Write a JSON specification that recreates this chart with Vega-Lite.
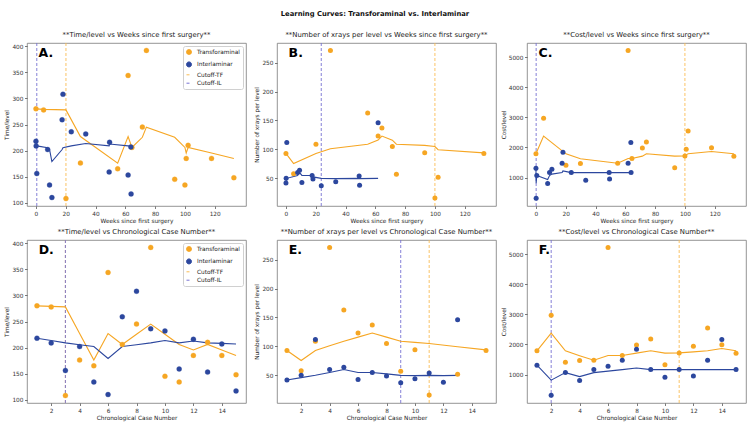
{
  "$schema": "https://vega.github.io/schema/vega-lite/v6.json",
  "padding": {"left": 3, "top": 11, "right": 2, "bottom": 2},
  "title": {"text": "Learning Curves: Transforaminal vs. Interlaminar", "fontSize": 6.8, "fontWeight": "bold", "anchor": "middle", "color": "#111111", "offset": 12},
  "config": {
    "font": "DejaVu Sans",
    "view": {"stroke": "#7a7a7a", "strokeWidth": 0.8},
    "axis": {"grid": false, "domain": false, "ticks": true, "tickSize": 2.5, "tickWidth": 0.7, "tickColor": "#444444", "tickCount": 30, "labelFontSize": 5.8, "labelColor": "#333333", "labelPadding": 1.5, "labelOverlap": false, "format": "d", "titleFontSize": 5.8, "titleFontWeight": "normal", "titleColor": "#222222", "titlePadding": 2},
    "title": {"fontSize": 6.9, "fontWeight": "normal", "color": "#222222", "offset": 4},
    "legend": {"labelFontSize": 5.8, "labelColor": "#222222", "padding": 3, "offset": 3, "strokeColor": "#d0d0d0", "fillColor": "#ffffff", "cornerRadius": 2, "rowPadding": 2.4, "labelOffset": 5, "symbolStrokeWidth": 1, "symbolSize": 25}
  },
  "datasets": {
    "cases": [
      {"group": "Transforaminal", "case": 1, "weeks": 0, "time": 280, "xrays": 93, "cost": 1790, "time_med": 280, "xrays_med": 93, "cost_med": 1790},
      {"group": "Transforaminal", "case": 2, "weeks": 5.14, "time": 278, "xrays": 58, "cost": 2970, "time_med": 279, "xrays_med": 75.5, "cost_med": 2380},
      {"group": "Transforaminal", "case": 3, "weeks": 20.14, "time": 108, "xrays": 109, "cost": 1410, "time_med": 278, "xrays_med": 93, "cost_med": 1790},
      {"group": "Transforaminal", "case": 4, "weeks": 29.86, "time": 176, "xrays": 271, "cost": 1465, "time_med": 227, "xrays_med": 101, "cost_med": 1627.5},
      {"group": "Transforaminal", "case": 5, "weeks": 54.86, "time": 165, "xrays": 163, "cost": 1475, "time_med": 176, "xrays_med": 109, "cost_med": 1475},
      {"group": "Transforaminal", "case": 6, "weeks": 61.86, "time": 344, "xrays": 123, "cost": 5230, "time_med": 227, "xrays_med": 116, "cost_med": 1632.5},
      {"group": "Transforaminal", "case": 7, "weeks": 64.43, "time": 206, "xrays": 137, "cost": 1635, "time_med": 206, "xrays_med": 123, "cost_med": 1635},
      {"group": "Transforaminal", "case": 8, "weeks": 71.43, "time": 245, "xrays": 105, "cost": 1985, "time_med": 225.5, "xrays_med": 116, "cost_med": 1712.5},
      {"group": "Transforaminal", "case": 9, "weeks": 74.14, "time": 392, "xrays": 57, "cost": 2180, "time_med": 245, "xrays_med": 109, "cost_med": 1790},
      {"group": "Transforaminal", "case": 10, "weeks": 93.14, "time": 145, "xrays": 94, "cost": 1330, "time_med": 225.5, "xrays_med": 107, "cost_med": 1712.5},
      {"group": "Transforaminal", "case": 11, "weeks": 100, "time": 134, "xrays": 16, "cost": 1720, "time_med": 206, "xrays_med": 105, "cost_med": 1720},
      {"group": "Transforaminal", "case": 12, "weeks": 100.86, "time": 185, "xrays": null, "cost": 1940, "time_med": 195.5, "xrays_med": null, "cost_med": 1755},
      {"group": "Transforaminal", "case": 13, "weeks": 102.14, "time": 210, "xrays": 52, "cost": 2550, "time_med": 206, "xrays_med": 99.5, "cost_med": 1790},
      {"group": "Transforaminal", "case": 14, "weeks": 117.86, "time": 185, "xrays": null, "cost": 1995, "time_med": 195.5, "xrays_med": null, "cost_med": 1865},
      {"group": "Transforaminal", "case": 15, "weeks": 132.86, "time": 148, "xrays": 93, "cost": 1710, "time_med": 185, "xrays_med": 94, "cost_med": 1790},
      {"group": "Interlaminar", "case": 1, "weeks": 0, "time": 218, "xrays": 42, "cost": 1310, "time_med": 218, "xrays_med": 42, "cost_med": 1310},
      {"group": "Interlaminar", "case": 2, "weeks": 0.14, "time": 209, "xrays": 50, "cost": 315, "time_med": 213.5, "xrays_med": 46, "cost_med": 812.5},
      {"group": "Interlaminar", "case": 3, "weeks": 0.57, "time": 156, "xrays": 112, "cost": 1065, "time_med": 209, "xrays_med": 50, "cost_med": 1065},
      {"group": "Interlaminar", "case": 4, "weeks": 7.86, "time": 202, "xrays": 60, "cost": 800, "time_med": 205.5, "xrays_med": 55, "cost_med": 932.5},
      {"group": "Interlaminar", "case": 5, "weeks": 9.14, "time": 134, "xrays": 64, "cost": 1165, "time_med": 202, "xrays_med": 60, "cost_med": 1065},
      {"group": "Interlaminar", "case": 6, "weeks": 10.71, "time": 110, "xrays": 43, "cost": 1275, "time_med": 179, "xrays_med": 55, "cost_med": 1115},
      {"group": "Interlaminar", "case": 7, "weeks": 17.57, "time": 259, "xrays": 55, "cost": 1475, "time_med": 202, "xrays_med": 55, "cost_med": 1165},
      {"group": "Interlaminar", "case": 8, "weeks": 18.14, "time": 308, "xrays": 49, "cost": 1840, "time_med": 205.5, "xrays_med": 52.5, "cost_med": 1220},
      {"group": "Interlaminar", "case": 9, "weeks": 23.71, "time": 236, "xrays": 37, "cost": 1165, "time_med": 209, "xrays_med": 50, "cost_med": 1165},
      {"group": "Interlaminar", "case": 10, "weeks": 33.43, "time": 232, "xrays": 44, "cost": 910, "time_med": 213.5, "xrays_med": 49.5, "cost_med": 1165},
      {"group": "Interlaminar", "case": 11, "weeks": 49.14, "time": 159, "xrays": 54, "cost": 1165, "time_med": 209, "xrays_med": 50, "cost_med": 1165},
      {"group": "Interlaminar", "case": 12, "weeks": 49.43, "time": 216, "xrays": 38, "cost": 955, "time_med": 212.5, "xrays_med": 49.5, "cost_med": 1165},
      {"group": "Interlaminar", "case": 13, "weeks": 61.86, "time": 153, "xrays": 146, "cost": 1475, "time_med": 209, "xrays_med": 50, "cost_med": 1165},
      {"group": "Interlaminar", "case": 14, "weeks": 63.71, "time": 207, "xrays": null, "cost": 2170, "time_med": 208, "xrays_med": null, "cost_med": 1165},
      {"group": "Interlaminar", "case": 15, "weeks": 63.86, "time": 117, "xrays": null, "cost": 1165, "time_med": 207, "xrays_med": null, "cost_med": 1165}
    ],
    "cutoffs": [
      {"panel": "A", "group": "Cutoff-TF", "at": 20.14},
      {"panel": "A", "group": "Cutoff-IL", "at": 0.57},
      {"panel": "B", "group": "Cutoff-TF", "at": 100},
      {"panel": "B", "group": "Cutoff-IL", "at": 23.71},
      {"panel": "C", "group": "Cutoff-TF", "at": 100},
      {"panel": "C", "group": "Cutoff-IL", "at": 0.14},
      {"panel": "D", "group": "Cutoff-TF", "at": 3},
      {"panel": "D", "group": "Cutoff-IL", "at": 3},
      {"panel": "E", "group": "Cutoff-TF", "at": 11},
      {"panel": "E", "group": "Cutoff-IL", "at": 9},
      {"panel": "F", "group": "Cutoff-TF", "at": 11},
      {"panel": "F", "group": "Cutoff-IL", "at": 2}
    ]
  },
  "columns": 3,
  "spacing": {"row": 34, "column": 31},
  "bounds": "flush",
  "resolve": {
    "scale": {"color": "independent", "fill": "independent", "stroke": "independent", "shape": "independent", "strokeDash": "independent"},
    "legend": {"color": "independent", "fill": "independent", "stroke": "independent", "shape": "independent", "strokeDash": "independent"}
  },
  "concat": [
    {
      "width": 219, "height": 163,
      "title": "**Time/level vs Weeks since first surgery**",
      "layer": [
        {"data": {"name": "cutoffs"}, "transform": [{"filter": "datum.panel === 'A'"}],
         "mark": {"type": "rule", "strokeWidth": 0.9},
         "encoding": {
           "x": {"field": "at", "type": "quantitative", "title": "Weeks since first surgery", "scale": {"domain": [-6, 141], "nice": false, "zero": false}, "axis": {"values": [0, 20, 40, 60, 80, 100, 120], "tickCount": 30, "labelOverlap": false}},
           "stroke": {"field": "group", "type": "nominal", "scale": {"domain": ["Transforaminal", "Interlaminar", "Cutoff-TF", "Cutoff-IL"], "range": ["#F6A623", "#2C479E", "#F9BC55", "#7772D2"]}, "legend": {"title": null, "orient": "top-right"}},
           "strokeDash": {"field": "group", "type": "nominal", "scale": {"domain": ["Transforaminal", "Interlaminar", "Cutoff-TF", "Cutoff-IL"], "range": [[1, 0], [1, 0], [3, 2], [3, 2]]}, "legend": {"title": null, "orient": "top-right"}}
         }},
        {"data": {"name": "cases"},
         "mark": {"type": "line", "strokeWidth": 1.1},
         "encoding": {
           "x": {"field": "weeks", "type": "quantitative", "title": "Weeks since first surgery", "axis": {"values": [0, 20, 40, 60, 80, 100, 120], "tickCount": 30, "labelOverlap": false}},
           "y": {"field": "time_med", "type": "quantitative", "title": "Time/level", "scale": {"domain": [93.8, 406.2], "nice": false, "zero": false}, "axis": {"values": [100, 150, 200, 250, 300, 350, 400], "tickCount": 30, "labelOverlap": false}},
           "order": {"field": "case", "type": "quantitative"},
           "stroke": {"field": "group", "type": "nominal", "legend": {"title": null, "orient": "top-right"}}
         }},
        {"data": {"name": "cases"},
         "mark": {"type": "point", "filled": true, "size": 25, "strokeWidth": 0.3, "opacity": 1},
         "encoding": {
           "x": {"field": "weeks", "type": "quantitative", "title": "Weeks since first surgery", "axis": {"values": [0, 20, 40, 60, 80, 100, 120], "tickCount": 30, "labelOverlap": false}},
           "y": {"field": "time", "type": "quantitative", "title": "Time/level", "axis": {"values": [100, 150, 200, 250, 300, 350, 400], "tickCount": 30, "labelOverlap": false}},
           "fill": {"field": "group", "type": "nominal", "scale": {"domain": ["Transforaminal", "Interlaminar", "Cutoff-TF", "Cutoff-IL"], "range": ["#F6A623", "#2C479E", "transparent", "transparent"]}, "legend": {"title": null, "orient": "top-right"}},
           "stroke": {"field": "group", "type": "nominal", "legend": {"title": null, "orient": "top-right"}},
           "shape": {"field": "group", "type": "nominal", "scale": {"domain": ["Transforaminal", "Interlaminar", "Cutoff-TF", "Cutoff-IL"], "range": ["circle", "circle", "stroke", "stroke"]}, "legend": {"title": null, "orient": "top-right"}}
         }},
        {"data": {"values": [{"tag": "A."}]},
         "mark": {"type": "text", "fontSize": 12.5, "fontWeight": "bold", "align": "left", "baseline": "alphabetic", "color": "#000000"},
         "encoding": {"text": {"field": "tag"}, "x": {"datum": 1.8}, "y": {"datum": 380.3}}}
      ]
    },
    {
      "width": 219, "height": 163,
      "title": "**Number of xrays per level vs Weeks since first surgery**",
      "layer": [
        {"data": {"name": "cutoffs"}, "transform": [{"filter": "datum.panel === 'B'"}],
         "mark": {"type": "rule", "strokeDash": [3, 2], "strokeWidth": 0.9},
         "encoding": {
           "x": {"field": "at", "type": "quantitative", "title": "Weeks since first surgery", "scale": {"domain": [-6, 141], "nice": false, "zero": false}, "axis": {"values": [0, 20, 40, 60, 80, 100, 120], "tickCount": 30, "labelOverlap": false}},
           "color": {"field": "group", "type": "nominal", "scale": {"domain": ["Transforaminal", "Interlaminar", "Cutoff-TF", "Cutoff-IL"], "range": ["#F6A623", "#2C479E", "#F9BC55", "#7772D2"]}, "legend": null}
         }},
        {"data": {"name": "cases"}, "transform": [{"filter": "isValid(datum.xrays_med)"}],
         "mark": {"type": "line", "strokeWidth": 1.1},
         "encoding": {
           "x": {"field": "weeks", "type": "quantitative", "title": "Weeks since first surgery"},
           "y": {"field": "xrays_med", "type": "quantitative", "title": "Number of xrays per level", "scale": {"domain": [2.2, 283.8], "nice": false, "zero": false}, "axis": {"values": [50, 100, 150, 200, 250], "tickCount": 30, "labelOverlap": false}},
           "order": {"field": "case", "type": "quantitative"},
           "color": {"field": "group", "type": "nominal", "legend": null}
         }},
        {"data": {"name": "cases"}, "transform": [{"filter": "isValid(datum.xrays)"}],
         "mark": {"type": "circle", "size": 25, "opacity": 1},
         "encoding": {
           "x": {"field": "weeks", "type": "quantitative", "title": "Weeks since first surgery"},
           "y": {"field": "xrays", "type": "quantitative", "title": "Number of xrays per level"},
           "color": {"field": "group", "type": "nominal", "legend": null}
         }},
        {"data": {"values": [{"tag": "B."}]},
         "mark": {"type": "text", "fontSize": 12.5, "fontWeight": "bold", "align": "left", "baseline": "alphabetic", "color": "#000000"},
         "encoding": {"text": {"field": "tag"}, "x": {"datum": 1.8}, "y": {"datum": 260.4}}}
      ]
    },
    {
      "width": 219, "height": 163,
      "title": "**Cost/level vs Weeks since first surgery**",
      "layer": [
        {"data": {"name": "cutoffs"}, "transform": [{"filter": "datum.panel === 'C'"}],
         "mark": {"type": "rule", "strokeDash": [3, 2], "strokeWidth": 0.9},
         "encoding": {
           "x": {"field": "at", "type": "quantitative", "title": "Weeks since first surgery", "scale": {"domain": [-6, 141], "nice": false, "zero": false}, "axis": {"values": [0, 20, 40, 60, 80, 100, 120], "tickCount": 30, "labelOverlap": false}},
           "color": {"field": "group", "type": "nominal", "scale": {"domain": ["Transforaminal", "Interlaminar", "Cutoff-TF", "Cutoff-IL"], "range": ["#F6A623", "#2C479E", "#F9BC55", "#7772D2"]}, "legend": null}
         }},
        {"data": {"name": "cases"},
         "mark": {"type": "line", "strokeWidth": 1.1},
         "encoding": {
           "x": {"field": "weeks", "type": "quantitative", "title": "Weeks since first surgery"},
           "y": {"field": "cost_med", "type": "quantitative", "title": "Cost/level", "scale": {"domain": [53.5, 5476.5], "nice": false, "zero": false}, "axis": {"values": [1000, 2000, 3000, 4000, 5000], "tickCount": 30, "labelOverlap": false}},
           "order": {"field": "case", "type": "quantitative"},
           "color": {"field": "group", "type": "nominal", "legend": null}
         }},
        {"data": {"name": "cases"},
         "mark": {"type": "circle", "size": 25, "opacity": 1},
         "encoding": {
           "x": {"field": "weeks", "type": "quantitative", "title": "Weeks since first surgery"},
           "y": {"field": "cost", "type": "quantitative", "title": "Cost/level"},
           "color": {"field": "group", "type": "nominal", "legend": null}
         }},
        {"data": {"values": [{"tag": "C."}]},
         "mark": {"type": "text", "fontSize": 12.5, "fontWeight": "bold", "align": "left", "baseline": "alphabetic", "color": "#000000"},
         "encoding": {"text": {"field": "tag"}, "x": {"datum": 1.8}, "y": {"datum": 5026}}}
      ]
    },
    {
      "width": 219, "height": 163,
      "title": "**Time/level vs Chronological Case Number**",
      "layer": [
        {"data": {"name": "cutoffs"}, "transform": [{"filter": "datum.panel === 'D'"}],
         "mark": {"type": "rule", "strokeWidth": 0.9},
         "encoding": {
           "x": {"field": "at", "type": "quantitative", "title": "Chronological Case Number", "scale": {"domain": [0.3, 15.7], "nice": false, "zero": false}, "axis": {"values": [2, 4, 6, 8, 10, 12, 14], "tickCount": 30, "labelOverlap": false}},
           "stroke": {"field": "group", "type": "nominal", "scale": {"domain": ["Transforaminal", "Interlaminar", "Cutoff-TF", "Cutoff-IL"], "range": ["#F6A623", "#2C479E", "#F9BC55", "#7772D2"]}, "legend": {"title": null, "orient": "top-right"}},
           "strokeDash": {"field": "group", "type": "nominal", "scale": {"domain": ["Transforaminal", "Interlaminar", "Cutoff-TF", "Cutoff-IL"], "range": [[1, 0], [1, 0], [3, 2], [3, 2]]}, "legend": {"title": null, "orient": "top-right"}}
         }},
        {"data": {"name": "cases"},
         "mark": {"type": "line", "strokeWidth": 1.1},
         "encoding": {
           "x": {"field": "case", "type": "quantitative", "title": "Chronological Case Number", "axis": {"values": [2, 4, 6, 8, 10, 12, 14], "tickCount": 30, "labelOverlap": false}},
           "y": {"field": "time_med", "type": "quantitative", "title": "Time/level", "scale": {"domain": [93.8, 406.2], "nice": false, "zero": false}, "axis": {"values": [100, 150, 200, 250, 300, 350, 400], "tickCount": 30, "labelOverlap": false}},
           "order": {"field": "case", "type": "quantitative"},
           "stroke": {"field": "group", "type": "nominal", "legend": {"title": null, "orient": "top-right"}}
         }},
        {"data": {"name": "cases"},
         "mark": {"type": "point", "filled": true, "size": 25, "strokeWidth": 0.3, "opacity": 1},
         "encoding": {
           "x": {"field": "case", "type": "quantitative", "title": "Chronological Case Number", "axis": {"values": [2, 4, 6, 8, 10, 12, 14], "tickCount": 30, "labelOverlap": false}},
           "y": {"field": "time", "type": "quantitative", "title": "Time/level", "axis": {"values": [100, 150, 200, 250, 300, 350, 400], "tickCount": 30, "labelOverlap": false}},
           "fill": {"field": "group", "type": "nominal", "scale": {"domain": ["Transforaminal", "Interlaminar", "Cutoff-TF", "Cutoff-IL"], "range": ["#F6A623", "#2C479E", "transparent", "transparent"]}, "legend": {"title": null, "orient": "top-right"}},
           "stroke": {"field": "group", "type": "nominal", "legend": {"title": null, "orient": "top-right"}},
           "shape": {"field": "group", "type": "nominal", "scale": {"domain": ["Transforaminal", "Interlaminar", "Cutoff-TF", "Cutoff-IL"], "range": ["circle", "circle", "stroke", "stroke"]}, "legend": {"title": null, "orient": "top-right"}}
         }},
        {"data": {"values": [{"tag": "D."}]},
         "mark": {"type": "text", "fontSize": 12.5, "fontWeight": "bold", "align": "left", "baseline": "alphabetic", "color": "#000000"},
         "encoding": {"text": {"field": "tag"}, "x": {"datum": 1.12}, "y": {"datum": 380.3}}}
      ]
    },
    {
      "width": 219, "height": 163,
      "title": "**Number of xrays per level vs Chronological Case Number**",
      "layer": [
        {"data": {"name": "cutoffs"}, "transform": [{"filter": "datum.panel === 'E'"}],
         "mark": {"type": "rule", "strokeDash": [3, 2], "strokeWidth": 0.9},
         "encoding": {
           "x": {"field": "at", "type": "quantitative", "title": "Chronological Case Number", "scale": {"domain": [0.3, 15.7], "nice": false, "zero": false}, "axis": {"values": [2, 4, 6, 8, 10, 12, 14], "tickCount": 30, "labelOverlap": false}},
           "color": {"field": "group", "type": "nominal", "scale": {"domain": ["Transforaminal", "Interlaminar", "Cutoff-TF", "Cutoff-IL"], "range": ["#F6A623", "#2C479E", "#F9BC55", "#7772D2"]}, "legend": null}
         }},
        {"data": {"name": "cases"}, "transform": [{"filter": "isValid(datum.xrays_med)"}],
         "mark": {"type": "line", "strokeWidth": 1.1},
         "encoding": {
           "x": {"field": "case", "type": "quantitative", "title": "Chronological Case Number"},
           "y": {"field": "xrays_med", "type": "quantitative", "title": "Number of xrays per level", "scale": {"domain": [2.2, 283.8], "nice": false, "zero": false}, "axis": {"values": [50, 100, 150, 200, 250], "tickCount": 30, "labelOverlap": false}},
           "order": {"field": "case", "type": "quantitative"},
           "color": {"field": "group", "type": "nominal", "legend": null}
         }},
        {"data": {"name": "cases"}, "transform": [{"filter": "isValid(datum.xrays)"}],
         "mark": {"type": "circle", "size": 25, "opacity": 1},
         "encoding": {
           "x": {"field": "case", "type": "quantitative", "title": "Chronological Case Number"},
           "y": {"field": "xrays", "type": "quantitative", "title": "Number of xrays per level"},
           "color": {"field": "group", "type": "nominal", "legend": null}
         }},
        {"data": {"values": [{"tag": "E."}]},
         "mark": {"type": "text", "fontSize": 12.5, "fontWeight": "bold", "align": "left", "baseline": "alphabetic", "color": "#000000"},
         "encoding": {"text": {"field": "tag"}, "x": {"datum": 1.12}, "y": {"datum": 260.4}}}
      ]
    },
    {
      "width": 219, "height": 163,
      "title": "**Cost/level vs Chronological Case Number**",
      "layer": [
        {"data": {"name": "cutoffs"}, "transform": [{"filter": "datum.panel === 'F'"}],
         "mark": {"type": "rule", "strokeDash": [3, 2], "strokeWidth": 0.9},
         "encoding": {
           "x": {"field": "at", "type": "quantitative", "title": "Chronological Case Number", "scale": {"domain": [0.3, 15.7], "nice": false, "zero": false}, "axis": {"values": [2, 4, 6, 8, 10, 12, 14], "tickCount": 30, "labelOverlap": false}},
           "color": {"field": "group", "type": "nominal", "scale": {"domain": ["Transforaminal", "Interlaminar", "Cutoff-TF", "Cutoff-IL"], "range": ["#F6A623", "#2C479E", "#F9BC55", "#7772D2"]}, "legend": null}
         }},
        {"data": {"name": "cases"},
         "mark": {"type": "line", "strokeWidth": 1.1},
         "encoding": {
           "x": {"field": "case", "type": "quantitative", "title": "Chronological Case Number"},
           "y": {"field": "cost_med", "type": "quantitative", "title": "Cost/level", "scale": {"domain": [53.5, 5476.5], "nice": false, "zero": false}, "axis": {"values": [1000, 2000, 3000, 4000, 5000], "tickCount": 30, "labelOverlap": false}},
           "order": {"field": "case", "type": "quantitative"},
           "color": {"field": "group", "type": "nominal", "legend": null}
         }},
        {"data": {"name": "cases"},
         "mark": {"type": "circle", "size": 25, "opacity": 1},
         "encoding": {
           "x": {"field": "case", "type": "quantitative", "title": "Chronological Case Number"},
           "y": {"field": "cost", "type": "quantitative", "title": "Cost/level"},
           "color": {"field": "group", "type": "nominal", "legend": null}
         }},
        {"data": {"values": [{"tag": "F."}]},
         "mark": {"type": "text", "fontSize": 12.5, "fontWeight": "bold", "align": "left", "baseline": "alphabetic", "color": "#000000"},
         "encoding": {"text": {"field": "tag"}, "x": {"datum": 1.12}, "y": {"datum": 5026}}}
      ]
    }
  ]
}
